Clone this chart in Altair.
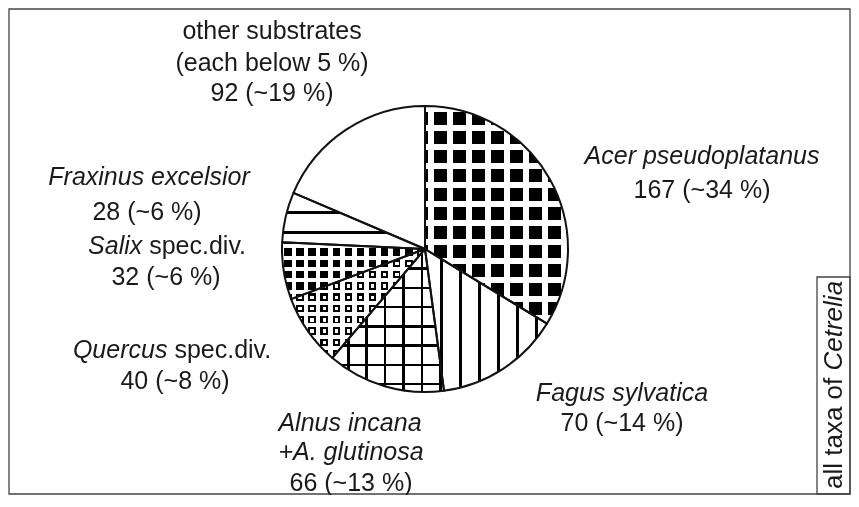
import math
import pandas as pd
import altair as alt

# ---------------- data ----------------
keys = ["acer", "fagus", "alnus", "quercus", "salix", "fraxinus", "other"]
counts = [167, 70, 66, 40, 32, 28, 92]
order = [0, 1, 2, 3, 4, 5, 6]

total = sum(counts)
pct = {k: f"{c} (~{round(100 * c / total)} %)" for k, c in zip(keys, counts)}

# ---------------- layout ----------------
W, H = 843, 487
CX, CY, R = 417, 241, 143
FONT = "Liberation Sans"
FS = 25
INK = "#1a1a1a"

xs = alt.Scale(domain=[0, W], nice=False, zero=False)
ys = alt.Scale(domain=[0, H], nice=False, zero=False, reverse=True)


def slice_bbox(a0, a1):
    pts = [(CX, CY)]
    angs = [a0, a1] + [k * math.pi / 2 for k in range(5) if a0 < k * math.pi / 2 < a1]
    for a in angs:
        pts.append((CX + R * math.sin(a), CY - R * math.cos(a)))
    px = [p[0] for p in pts]
    py = [p[1] for p in pts]
    return min(px), max(px), min(py), max(py)


angles = []
c = 0
for n in counts:
    a0 = 2 * math.pi * c / total
    c += n
    angles.append((a0, 2 * math.pi * c / total))
bbox = {k: slice_bbox(*angles[i]) for i, k in enumerate(keys)}

CLEAR = "rgba(255,255,255,0)"


def stripes(key, vertical, pitch, width, phase, c_in, c_out):
    x0, x1, y0, y1 = bbox[key]
    lo, hi = (x0, x1) if vertical else (y0, y1)
    span = hi - lo
    stops = [(0.0, c_out)]
    k0 = math.floor((lo - phase) / pitch) - 2
    k1 = math.ceil((hi - phase) / pitch) + 2
    for k in range(k0, k1 + 1):
        s = phase + k * pitch - width / 2
        e = s + width
        fs, fe = (s - lo) / span, (e - lo) / span
        if fe <= 0 or fs >= 1:
            continue
        fs, fe = max(fs, 0.0), min(fe, 1.0)
        stops += [(fs, c_out), (fs, c_in), (fe, c_in), (fe, c_out)]
    stops.append((1.0, c_out))
    return {
        "gradient": "linear",
        "x1": 0, "y1": 0,
        "x2": 1 if vertical else 0,
        "y2": 0 if vertical else 1,
        "stops": [{"offset": round(o, 5), "color": col} for o, col in stops],
    }


pie_df = pd.DataFrame({"key": keys, "count": counts, "idx": order})

base = (
    alt.Chart(pie_df)
    .transform_joinaggregate(total="sum(count)")
    .transform_window(cum="sum(count)", sort=[alt.SortField("idx")], frame=[None, 0])
    .transform_calculate(
        a0="2*PI*(datum.cum - datum.count)/datum.total",
        a1="2*PI*datum.cum/datum.total",
    )
    .encode(
        theta=alt.Theta("a0:Q", scale=None),
        theta2="a1:Q",
        x=alt.value(CX),
        y=alt.value(CY),
    )
)


def arc(key, fill, blend=None):
    kw = dict(radius=R, fill=fill, strokeWidth=0)
    if blend:
        kw["blend"] = blend
    return base.transform_filter(alt.datum.key == key).mark_arc(**kw)


layers = []
# Acer: black squares on white grid
layers.append(arc("acer", stripes("acer", True, 19, 13.8, 432.5, "black", "white")))
layers.append(arc("acer", stripes("acer", False, 19, 13.8, 129.5, CLEAR, "white")))
# Fagus: vertical lines
layers.append(arc("fagus", stripes("fagus", True, 19, 2.6, 433.7, "black", "white")))
# Alnus: grid of thin lines
layers.append(arc("alnus", stripes("alnus", True, 18.4, 2.6, 340.3, "black", "white")))
layers.append(arc("alnus", stripes("alnus", False, 19.2, 2.6, 280, "black", CLEAR)))
# Quercus: small rings
layers.append(arc("quercus", stripes("quercus", True, 12.1, 3.4, 292, "white", "black")))
layers.append(arc("quercus", stripes("quercus", False, 11.3, 3.4, 244, "white", "black"), "multiply"))
layers.append(arc("quercus", stripes("quercus", True, 12.1, 7.4, 292, "black", "white"), "lighten"))
layers.append(arc("quercus", stripes("quercus", False, 11.3, 7.4, 244, "black", "white"), "lighten"))
# Salix: black dots
layers.append(arc("salix", stripes("salix", True, 12.1, 7.4, 292, "black", "white")))
layers.append(arc("salix", stripes("salix", False, 11.3, 7.4, 244, CLEAR, "white")))
# Fraxinus: horizontal lines
layers.append(arc("fraxinus", stripes("fraxinus", False, 20, 2.6, 204.7, "black", "white")))
# other substrates: white
layers.append(arc("other", "white"))
# outlines
layers.append(base.mark_arc(radius=R, filled=False, stroke="#111", strokeWidth=2, strokeJoin="round"))

# ---------------- frame ----------------
frame_df = pd.DataFrame({"x": [1, 809], "x2": [842, 842], "y": [1, 269], "y2": [486, 486]})
frame = alt.Chart(frame_df).mark_rect(filled=False, stroke="#444", strokeWidth=1.3).encode(
    x=alt.X("x:Q", scale=xs, axis=None), x2="x2:Q",
    y=alt.Y("y:Q", scale=ys, axis=None), y2="y2:Q",
)

# ---------------- labels ----------------
label_text = [
    "Acer pseudoplatanus", pct["acer"],
    "Fagus sylvatica", pct["fagus"],
    "Alnus incana", "+A. glutinosa", pct["alnus"],
    "Quercus", "spec.div.", pct["quercus"],
    "Salix", "spec.div.", pct["salix"],
    "Fraxinus excelsior", pct["fraxinus"],
    "other substrates", "(each below 5 %)", pct["other"],
    "all taxa of", "Cetrelia",
]
label_x = [694, 694, 614, 614, 342, 343, 343, 159.4, 166.4, 167, 134.3, 141.2, 158,
           141, 139, 264, 264, 264, 826, 826]
label_y = [148, 182, 385, 415, 415, 444, 475, 342, 342, 373, 238, 238, 269,
           169, 204, 22.5, 55, 85, 481, 362.5]
label_italic = [1, 0, 1, 0, 1, 1, 0, 1, 0, 0, 1, 0, 0, 1, 0, 0, 0, 0, 0, 1]
label_align = ["center", "center", "center", "center", "center", "center", "center",
               "right", "left", "center", "right", "left", "center",
               "center", "center", "center", "center", "center", "left", "left"]
label_angle = [0] * 18 + [270, 270]

lab_df = pd.DataFrame({
    "text": label_text, "x": label_x, "y": label_y,
    "ital": label_italic, "anchor": label_align, "rot": label_angle,
})

text_layers = []
for italic in (0, 1):
    for align in ("left", "center", "right"):
        for ang in (0, 270):
            sub = lab_df[(lab_df["ital"] == italic) & (lab_df["anchor"] == align) & (lab_df["rot"] == ang)]
            if len(sub) == 0:
                continue
            text_layers.append(
                alt.Chart(sub.reset_index(drop=True)).mark_text(
                    font=FONT,
                    fontSize=26 if ang else FS,
                    fontStyle="italic" if italic else "normal",
                    align=align,
                    baseline="middle",
                    angle=ang,
                    color=INK,
                ).encode(
                    x=alt.X("x:Q", scale=xs, axis=None),
                    y=alt.Y("y:Q", scale=ys, axis=None),
                    text="text:N",
                )
            )

chart = (
    alt.layer(*layers, frame, *text_layers)
    .properties(width=W, height=H, padding=0, autosize=alt.AutoSizeParams(type="none"),
                background="white")
    .configure_view(strokeWidth=0)
)

chart.save("out.html", embed_options={"renderer": "svg", "actions": False})
